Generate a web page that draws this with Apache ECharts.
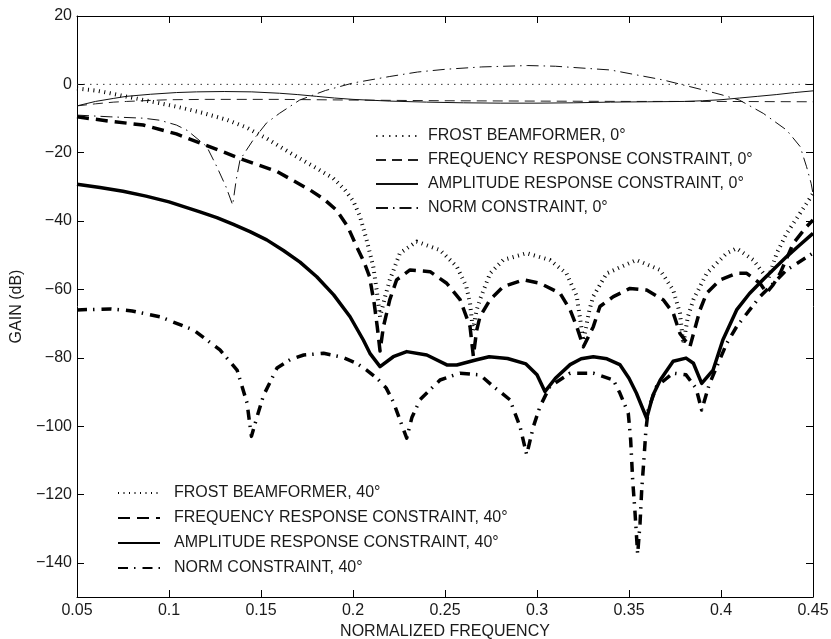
<!DOCTYPE html>
<html>
<head>
<meta charset="utf-8">
<script src="https://cdn.jsdelivr.net/npm/echarts@6/dist/echarts.min.js"></script>
<style>
html,body{margin:0;padding:0;background:#fff;}
#chart{width:831px;height:639px;}
</style>
</head>
<body>
<div id="chart"></div>
<script>
// ---- data (normalized frequency, gain dB) ----
const xTicks = [0.05, 0.1, 0.15, 0.2, 0.25, 0.3, 0.35, 0.4, 0.45];
const yTicks = [20, 0, -20, -40, -60, -80, -100, -120, -140];

const names0 = [
  'FROST BEAMFORMER, 0°',
  'FREQUENCY RESPONSE CONSTRAINT, 0°',
  'AMPLITUDE RESPONSE CONSTRAINT, 0°',
  'NORM CONSTRAINT, 0°'
];
const names40 = [
  'FROST BEAMFORMER, 40°',
  'FREQUENCY RESPONSE CONSTRAINT, 40°',
  'AMPLITUDE RESPONSE CONSTRAINT, 40°',
  'NORM CONSTRAINT, 40°'
];

const frost0 = [[0.05,0],[0.45,0]];

const freq0 = [[0.05,-6.3],[0.06,-5.7],[0.07,-5.2],[0.077,-5.0],[0.09,-4.7],[0.1,-4.5],[0.12,-4.4],
  [0.16,-4.4],[0.2,-4.6],[0.25,-4.8],[0.3,-4.9],[0.35,-5.0],[0.4,-5.0],[0.45,-5.1]];

const amp0 = [[0.05,-6.3],[0.06,-5.0],[0.07,-4.1],[0.077,-3.5],[0.09,-2.9],[0.104,-2.4],[0.115,-2.2],
  [0.13,-2.1],[0.145,-2.2],[0.16,-2.6],[0.17,-3.0],[0.18,-3.5],[0.19,-4.0],[0.2,-4.4],[0.22,-4.9],
  [0.24,-5.2],[0.26,-5.4],[0.28,-5.5],[0.3,-5.5],[0.32,-5.4],[0.34,-5.2],[0.36,-5.1],[0.38,-5.0],
  [0.39,-4.8],[0.4,-4.5],[0.41,-4.0],[0.42,-3.5],[0.43,-3.0],[0.44,-2.4],[0.45,-1.9]];

const norm0 = [[0.05,-9],[0.068,-9.5],[0.086,-9.9],[0.095,-10.5],[0.104,-11.9],[0.11,-13.5],
  [0.1205,-18.2],[0.126,-24.1],[0.131,-30],[0.1346,-35.3],[0.1365,-28],[0.1386,-22.1],[0.1457,-16.3],
  [0.153,-11.3],[0.16,-8.5],[0.171,-4.6],[0.185,-1.8],[0.2,0.4],[0.22,2.3],[0.235,3.6],[0.25,4.4],
  [0.27,5.1],[0.295,5.5],[0.31,5.3],[0.34,4.2],[0.3685,1.3],[0.39,-1.6],[0.4,-3.0],[0.41,-4.6],
  [0.423,-8.5],[0.4357,-13.4],[0.443,-18.2],[0.4465,-24.1],[0.449,-29],[0.45,-32]];

const frost40 = [[0.05,-1.2],[0.06,-1.8],[0.068,-2.6],[0.077,-3.6],[0.09,-5],[0.104,-6.5],[0.118,-8.3],
  [0.1315,-10.4],[0.142,-12.6],[0.153,-15.8],[0.162,-18.8],[0.172,-22],[0.18,-24.5],[0.1893,-27.5],
  [0.1955,-30.8],[0.2002,-34.2],[0.2038,-38.7],[0.2074,-45.5],[0.211,-53.3],[0.2128,-60],[0.2147,-68],
  [0.2175,-62],[0.22,-57.2],[0.2255,-49.4],[0.2346,-46],[0.2473,-48.5],[0.2564,-53.3],[0.2615,-59],
  [0.2636,-64],[0.2652,-72],[0.2672,-66],[0.269,-63],[0.2745,-55.3],[0.2816,-51.4],[0.2944,-49.4],
  [0.307,-51.4],[0.316,-55.3],[0.3216,-62],[0.3252,-75],[0.3285,-66],[0.3306,-62],[0.3379,-55.3],
  [0.354,-51.4],[0.3668,-54.3],[0.374,-60.2],[0.3777,-67],[0.3795,-76],[0.382,-68],[0.385,-63],
  [0.3922,-55.3],[0.4031,-49.4],[0.4085,-48],[0.4176,-51.4],[0.423,-55.3],[0.4256,-57],
  [0.4303,-49.4],[0.4357,-43.6],[0.443,-37.7],[0.45,-32]];

const freq40 = [[0.05,-9.5],[0.068,-10.8],[0.086,-11.9],[0.104,-14.5],[0.122,-18.2],[0.1406,-22.1],
  [0.1587,-25.5],[0.1766,-30.9],[0.184,-33.5],[0.191,-36.8],[0.197,-41.5],[0.202,-47.5],[0.206,-52],
  [0.209,-56.3],[0.2115,-64],[0.2132,-71],[0.2147,-78],[0.2165,-71],[0.22,-63],[0.2237,-57.2],
  [0.231,-54.3],[0.2419,-54.8],[0.2509,-58.2],[0.2582,-63],[0.2636,-70.9],[0.2654,-79.5],[0.2672,-72],
  [0.269,-68],[0.2745,-63],[0.2817,-59.2],[0.2926,-57.2],[0.3016,-58.2],[0.3125,-61.1],[0.318,-66],
  [0.3216,-70.9],[0.3252,-76.8],[0.3306,-70.9],[0.3342,-65],[0.3415,-62.1],[0.3505,-59.7],
  [0.3596,-60.2],[0.3687,-63.1],[0.3741,-67],[0.3777,-72.9],[0.3831,-76.8],[0.3886,-66],
  [0.3922,-61.1],[0.3995,-57.2],[0.4085,-55.3],[0.414,-55.3],[0.4212,-58.2],[0.4248,-61],
  [0.4283,-58.7],[0.4321,-55.3],[0.4393,-46.5],[0.4466,-41.6],[0.45,-39.7]];

const amp40 = [[0.05,-29.2],[0.0625,-30.2],[0.075,-31.3],[0.0875,-32.7],[0.1,-34.4],[0.1168,-37.3],
  [0.126,-39.0],[0.135,-41.0],[0.144,-43.1],[0.1531,-45.5],[0.1622,-48.6],[0.1712,-52.0],
  [0.1803,-56.3],[0.1895,-61.6],[0.1984,-68],[0.2056,-74.8],[0.2092,-78.7],
  [0.2147,-82.6],[0.2219,-79.7],[0.2292,-78.2],[0.2401,-79.2],[0.251,-82.1],[0.2564,-82.1],
  [0.2672,-80.6],[0.274,-79.7],[0.284,-80.2],[0.294,-81.8],[0.3,-85],[0.3043,-89.9],[0.31,-86],
  [0.318,-82],[0.324,-80.3],[0.3306,-79.7],[0.338,-80.3],[0.345,-82],[0.35,-86],[0.354,-90.3],
  [0.3596,-97.7],[0.363,-91],[0.367,-86.5],[0.374,-81],[0.381,-80.1],[0.385,-81.6],[0.3895,-87.5],
  [0.3957,-83.6],[0.401,-74.8],[0.4085,-66],[0.4155,-61.2],[0.4228,-57.2],[0.4357,-50.4],
  [0.4428,-47.0],[0.45,-43.6]];

const norm40 = [[0.05,-66],[0.068,-65.7],[0.08,-66.3],[0.095,-68],[0.1134,-71.9],[0.1277,-77.7],
  [0.137,-83.6],[0.1424,-93.2],[0.1448,-103],[0.148,-97],[0.1514,-91],[0.1587,-83],[0.166,-80.5],
  [0.1732,-79.2],[0.184,-78.7],[0.194,-79.8],[0.202,-81.6],[0.2074,-83.6],[0.213,-86],[0.218,-88.8],
  [0.222,-93],[0.2255,-98.2],[0.2292,-103.5],[0.232,-97.5],[0.2364,-92.3],[0.2473,-86.5],
  [0.2582,-84.5],[0.269,-85],[0.2763,-88.4],[0.2853,-92.3],[0.2908,-100.2],[0.2944,-108.4],
  [0.298,-100.2],[0.3016,-94.3],[0.307,-88.4],[0.318,-84.5],[0.3306,-84.5],[0.3415,-86.5],
  [0.3451,-90.4],[0.3496,-96.2],[0.3509,-104],[0.352,-115.8],[0.3533,-125.5],[0.3547,-137.5],
  [0.356,-128.4],[0.3569,-118.7],[0.3582,-109],[0.3592,-101.1],[0.3605,-95],[0.365,-88.4],
  [0.374,-84.5],[0.381,-85],[0.3865,-89],[0.3895,-95.3],[0.3935,-88],[0.3977,-82.6],[0.4031,-75.8],
  [0.4085,-70.9],[0.4212,-62.1],[0.4357,-54.3],[0.45,-49.4]];

// ---- chart ----
const FONT = '"Liberation Sans", Arial, Helvetica, sans-serif';
const chart = echarts.init(document.getElementById('chart'), null, {renderer: 'canvas'});

function fmtNum(v) {
  const s = String(parseFloat(Number(v).toFixed(4)));
  return s.replace('-', '\u2212');
}

function mk(name, data, width, type, color) {
  return {
    name: name, type: 'line', data: data, xAxisIndex: 0, yAxisIndex: 0,
    symbol: 'none', showSymbol: false, smooth: false, silent: true,
    lineStyle: {width: width, type: type, color: color || '#000', cap: 'butt', join: 'round'},
    itemStyle: {color: color || '#000'},
    emphasis: {disabled: true},
    z: 3
  };
}

const axisCommon = {
  axisLine: {show: true, onZero: false, lineStyle: {color: '#000', width: 1}},
  axisTick: {show: true, inside: true, length: 7, lineStyle: {color: '#000', width: 1}},
  splitLine: {show: false}
};

const legendCommon = {
  orient: 'vertical',
  itemWidth: 42,
  itemHeight: 14,
  padding: 0,
  selectedMode: false,
  itemStyle: {opacity: 0},
  textStyle: {fontFamily: FONT, fontSize: 16, color: '#1a1a1a'}
};

chart.setOption({
  animation: false,
  backgroundColor: '#fff',
  grid: {left: 77, right: 18, top: 16, bottom: 42, containLabel: false, outerBoundsMode: 'none'},
  xAxis: [
    Object.assign({
      type: 'value', min: xTicks[0], max: xTicks[xTicks.length - 1], interval: 0.05,
      position: 'bottom',
      name: 'NORMALIZED FREQUENCY', nameLocation: 'middle', nameGap: 25,
      nameTextStyle: {fontFamily: FONT, fontSize: 16, color: '#1a1a1a'},
      axisLabel: {show: true, margin: 6, fontFamily: FONT, fontSize: 16, color: '#1a1a1a',
        formatter: fmtNum, showMinLabel: true, showMaxLabel: true}
    }, axisCommon),
    Object.assign({
      type: 'value', min: xTicks[0], max: xTicks[xTicks.length - 1], interval: 0.05,
      position: 'top', axisLabel: {show: false}
    }, axisCommon)
  ],
  yAxis: [
    Object.assign({
      type: 'value', min: -150, max: yTicks[0], splitNumber: 8,
      position: 'left',
      name: 'GAIN (dB)', nameLocation: 'middle', nameGap: 48,
      nameTextStyle: {fontFamily: FONT, fontSize: 16, color: '#1a1a1a'},
      axisLabel: {show: true, margin: 5, fontFamily: FONT, fontSize: 16, color: '#1a1a1a',
        formatter: function (v) { return yTicks.indexOf(v) >= 0 ? fmtNum(v) : ''; },
        showMinLabel: false}
    }, axisCommon),
    Object.assign({
      type: 'value', min: -150, max: yTicks[0], splitNumber: 8,
      position: 'right', axisLabel: {show: false}
    }, axisCommon)
  ],
  legend: [
    Object.assign({}, legendCommon, {
      data: names0, left: 375, top: 128, itemGap: 8,
      textStyle: Object.assign({}, legendCommon.textStyle, {padding: [0, 0, 0, 5]})
    }),
    Object.assign({}, legendCommon, {
      data: names40, left: 117, top: 485, itemGap: 9,
      textStyle: Object.assign({}, legendCommon.textStyle, {padding: [0, 0, 0, 9]})
    })
  ],
  series: [
    mk(names0[0], frost0, 1, [1.5, 5], '#333'),
    mk(names0[1], freq0, 1, [10, 6], '#222'),
    mk(names0[2], amp0, 1, 'solid', '#111'),
    mk(names0[3], norm0, 1, [12, 5, 1.5, 5], '#111'),
    mk(names40[0], frost40, 4, [1, 4.5], '#000'),
    mk(names40[1], freq40, 3.5, [12, 7], '#000'),
    mk(names40[2], amp40, 3.5, 'solid', '#000'),
    mk(names40[3], norm40, 3.5, [10, 6, 1.5, 7], '#000')
  ]
});
</script>
</body>
</html>
